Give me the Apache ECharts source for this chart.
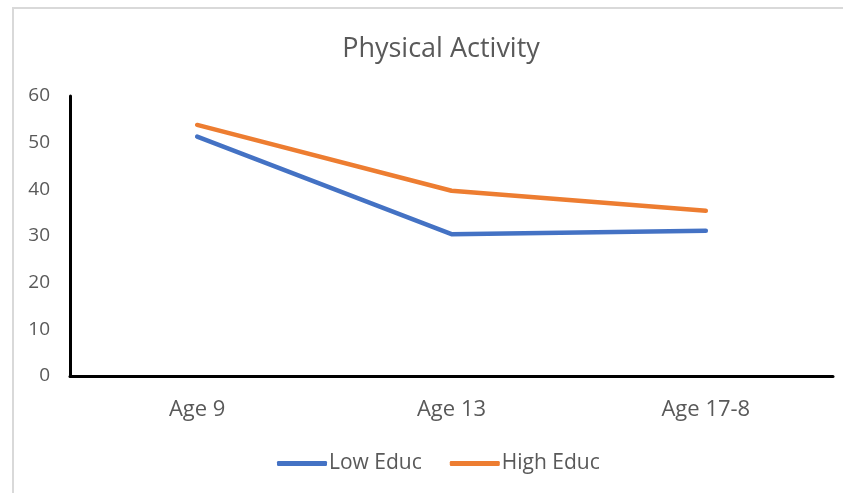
<!DOCTYPE html>
<html>
<head>
<meta charset="utf-8">
<script src="https://cdn.jsdelivr.net/npm/echarts@6/dist/echarts.min.js"></script>
<style>
  html, body { margin: 0; padding: 0; background: #fff; }
  #chart { width: 843px; height: 493px; }
</style>
</head>
<body>
<div id="chart"></div>
<script>
// Physical activity by age, split by education level
const categories = ['Age 9', 'Age 13', 'Age 17-8'];
const lowEduc = [51.3, 30.4, 31.1];
const highEduc = [53.8, 39.7, 35.4];
const yTicks = { min: 0, max: 60, interval: 10 };

const FONT = '"Open Sans", "Noto Sans", sans-serif';
const TEXT = '#595959';

const chart = echarts.init(document.getElementById('chart'), null, { renderer: 'canvas' });
chart.setOption({
  backgroundColor: '#ffffff',
  animation: false,
  graphic: [{
    type: 'rect',
    shape: { x: 13, y: 8, width: 900, height: 600 },
    style: { fill: 'none', stroke: '#d9d9d9', lineWidth: 2 },
    silent: true
  }],
  title: {
    text: 'Physical Activity',
    left: 436,
    textAlign: 'center',
    top: 31,
    textStyle: { fontFamily: FONT, fontSize: 27, fontWeight: 'normal', color: TEXT }
  },
  legend: {
    bottom: 14,
    left: 272,
    itemWidth: 50,
    itemHeight: 5,
    itemGap: 28,
    icon: 'roundRect',
    textStyle: { fontFamily: FONT, fontSize: 21, color: TEXT, padding: [0, 0, 0, -3] },
    data: ['Low Educ', 'High Educ']
  },
  grid: { left: 70, right: 10, top: 96, bottom: 117, containLabel: false },
  xAxis: {
    type: 'category',
    data: categories,
    boundaryGap: true,
    axisLine: { show: true, lineStyle: { color: '#000', width: 3 } },
    axisTick: { show: false },
    axisLabel: { fontFamily: FONT, fontSize: 22, color: TEXT, margin: 23 }
  },
  yAxis: {
    type: 'value',
    min: yTicks.min,
    max: yTicks.max,
    interval: yTicks.interval,
    axisLine: { show: true, lineStyle: { color: '#000', width: 3 } },
    axisTick: { show: false },
    splitLine: { show: false },
    axisLabel: { fontFamily: FONT, fontSize: 19, color: TEXT, margin: 20 }
  },
  series: [
    {
      name: 'Low Educ',
      type: 'line',
      data: lowEduc,
      showSymbol: false,
      symbol: 'none',
      itemStyle: { color: '#4472C4' },
      lineStyle: { color: '#4472C4', width: 4.5, cap: 'round', join: 'round' }
    },
    {
      name: 'High Educ',
      type: 'line',
      data: highEduc,
      showSymbol: false,
      symbol: 'none',
      itemStyle: { color: '#ED7D31' },
      lineStyle: { color: '#ED7D31', width: 4.5, cap: 'round', join: 'round' }
    }
  ]
});
</script>
</body>
</html>
